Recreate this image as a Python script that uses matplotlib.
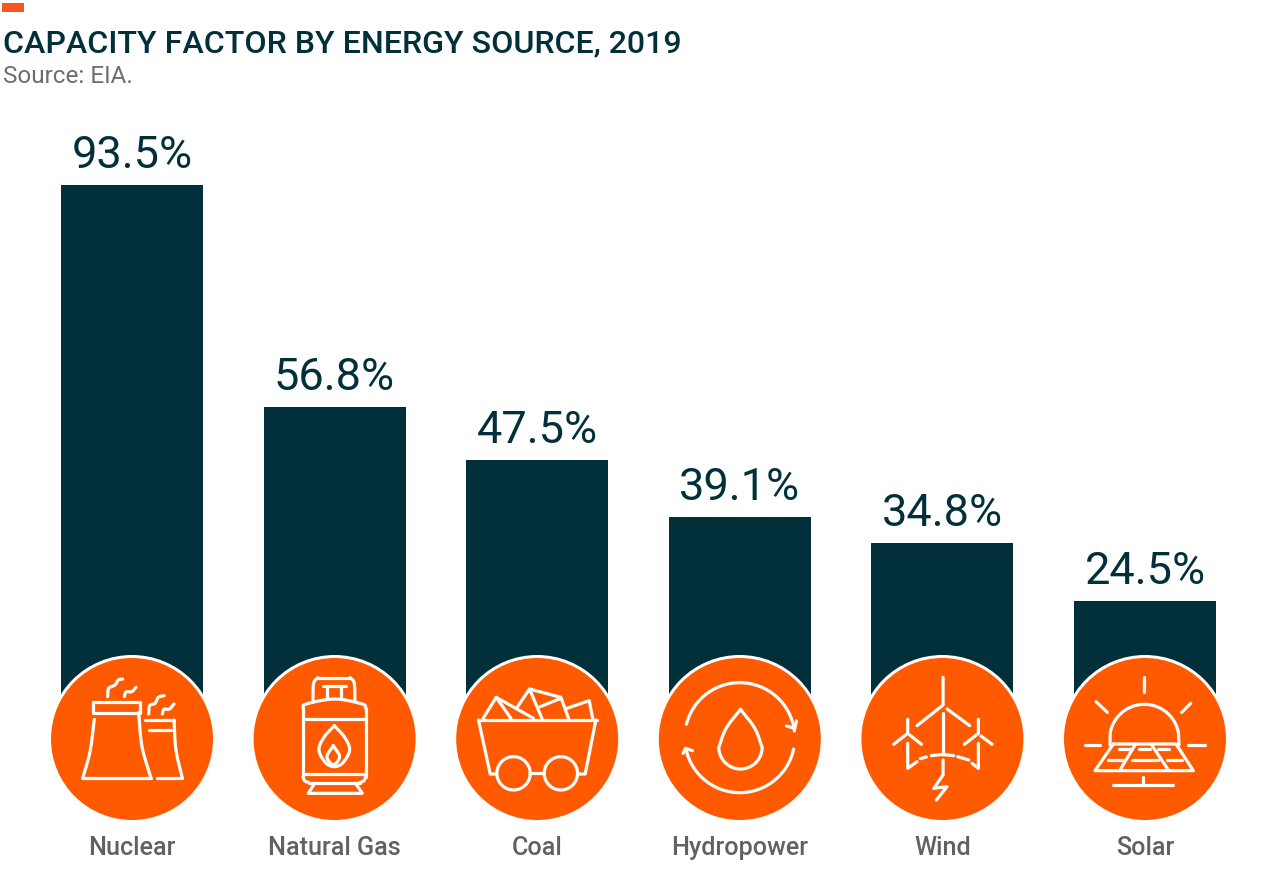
import numpy as np
import matplotlib
matplotlib.use("Agg")
import matplotlib.pyplot as plt
from matplotlib.patches import Circle, Rectangle

categories = ["Nuclear", "Natural Gas", "Coal", "Hydropower", "Wind", "Solar"]
value_labels = ["93.5%", "56.8%", "47.5%", "39.1%", "34.8%", "24.5%"]
bar_heights = [93.5, 56.7, 47.9, 38.4, 34.1, 24.5]
title_text = "CAPACITY FACTOR BY ENERGY SOURCE, 2019"
source_text = "Source: EIA."

DARK = "#02303a"
ORANGE = "#ff5a00"
GREY = "#5f6163"
W, H = 1280, 877
X0, DX, BASE, UNIT, AX_BOTTOM = 132.0, 202.6, 748.7, 6.03, 826.0
FONT = "Roboto"

fig = plt.figure(figsize=(W / 100, H / 100), dpi=100, facecolor="white")
ax = fig.add_axes([0, 1 - AX_BOTTOM / H, 1, AX_BOTTOM / H])
ax.set_xlim(-X0 / DX, (W - X0) / DX)
ax.set_ylim(-(AX_BOTTOM - BASE) / UNIT, BASE / UNIT)
x = np.arange(len(categories))
ax.bar(x, bar_heights, width=142 / DX, color=DARK, linewidth=0)
for s in ax.spines.values():
    s.set_visible(False)
ax.set_yticks([])
ax.set_xticks(x, categories, fontsize=18.1, fontweight="medium", family=FONT, color=GREY)
ax.tick_params(axis="x", length=0, pad=7)
for xi, h, lab in zip(x, bar_heights, value_labels):
    ax.annotate(lab, (xi, h), xytext=(0, 12.2), textcoords="offset points", ha="center",
                va="baseline", fontsize=32.5, fontweight="regular", family=FONT, color=DARK)

ov = fig.add_axes([0, 0, 1, 1], facecolor="none")
ov.set_xlim(0, W)
ov.set_ylim(H, 0)
ov.axis("off")
ov.add_patch(Rectangle((2, 3), 22, 9, color="#f4581f", lw=0))
ov.text(3, 52.5, title_text, fontsize=23.1, fontweight="medium", family=FONT, color=DARK, va="baseline")
ov.text(3, 83, source_text, fontsize=17.5, fontweight="regular", family=FONT, color="#6b6e70", va="baseline")


def smooth(pts, n=12):
    p = np.array(pts, float)
    p = np.vstack([2 * p[0] - p[1], p, 2 * p[-1] - p[-2]])
    out = []
    for i in range(1, len(p) - 2):
        for t in np.linspace(0, 1, n, endpoint=False):
            out.append(0.5 * (2 * p[i] + (p[i + 1] - p[i - 1]) * t
                              + (2 * p[i - 1] - 5 * p[i] + 4 * p[i + 1] - p[i + 2]) * t ** 2
                              + (3 * p[i] - p[i - 1] - 3 * p[i + 1] + p[i + 2]) * t ** 3))
    out.append(p[-2])
    return np.array(out)


def arc(cx, cy, r, a0, a1):
    a = np.radians(np.linspace(a0, a1, 60))
    return np.column_stack([cx + r * np.cos(a), cy - r * np.sin(a)])


S = lambda *p: smooth(p)
L = lambda *p: np.array(p, float)

# Icon outlines, in units of a 3x crop, relative to the crop position of each circle centre
icons = [
    ((276, 237), [
        L((160, 127), (300, 127), (300, 158), (160, 158), (160, 127)),
        S((163, 178), (150, 275), (128, 355)), L((128, 355), (333, 355)),
        S((296, 158), (306, 260), (333, 355)),
        L((315, 180), (402, 180)), L((328, 211), (392, 211)),
        S((402, 180), (408, 270), (427, 355)), L((350, 355), (427, 355)),
        S((203, 110), (206, 85), (225, 75), (235, 60), (248, 57)),
        S((253, 110), (258, 96), (275, 95), (288, 82)),
        S((326, 162), (329, 137), (345, 130), (355, 112), (372, 107)),
        S((367, 162), (372, 148), (388, 147), (402, 132)),
    ]),
    ((885, 237), [
        S((820, 125), (822, 70), (835, 53)), L((835, 53), (932, 53)), S((932, 53), (944, 70), (946, 125)),
        L((850, 78), (920, 78)), L((862, 78), (862, 113)), L((905, 78), (905, 113)),
        S((790, 145), (800, 132), (885, 117), (968, 132), (978, 145)),
        L((790, 145), (790, 350)), L((978, 145), (978, 350)),
        S((790, 350), (795, 362), (808, 368)), L((808, 368), (960, 368)), S((960, 368), (973, 362), (978, 350)),
        L((790, 178), (978, 178)), L((790, 342), (978, 342)),
        L((825, 370), (806, 400), (968, 400), (948, 370)),
        S((884, 197), (915, 232), (930, 270), (910, 308), (884, 320), (858, 308), (838, 270), (853, 232), (884, 197)),
        S((881, 257), (900, 290), (881, 314), (862, 290), (881, 257)),
    ]),
    ((291, 237), [
        L((112, 180), (470, 180)), L((115, 180), (150, 342), (168, 342)), L((467, 180), (435, 342), (415, 342)),
        L((275, 338), (310, 338)), arc(220, 340, 50, 0, 360), arc(362, 340, 50, 0, 360),
        L((127, 178), (168, 112), (212, 175)), L((168, 112), (280, 175)),
        L((232, 140), (268, 87), (305, 175)), L((268, 87), (362, 112), (385, 175)),
        L((300, 140), (362, 115)), L((380, 145), (447, 122), (458, 178)),
    ]),
    ((900, 237), [
        arc(900, 233, 165, 166, 7), arc(900, 233, 165, -12, -166),
        L((1040, 198), (1065, 205), (1070, 183)), L((730, 280), (737, 265), (758, 272)),
        np.vstack([S((902, 148), (945, 205), (967, 262)), arc(902, 262, 65, 0, -180),
                   S((837, 262), (859, 205), (902, 148))]),
    ]),
    ((276, 237), [
        L((278, 52), (278, 135), (200, 197)), L((290, 147), (358, 197)),
        L((278, 160), (278, 275)), L((278, 300), (278, 345), (250, 385), (290, 380), (258, 420)),
        L((172, 178), (172, 220), (130, 253)), L((178, 225), (213, 253)), L((172, 250), (172, 325), (200, 305)),
        L((384, 178), (384, 220), (342, 253)), L((392, 228), (425, 253)), L((384, 250), (384, 325), (365, 310)),
        L((210, 296), (228, 291)), S((243, 287), (275, 284), (310, 287)), L((322, 290), (355, 300)),
    ]),
    ((885, 237), [
        L((883, 50), (883, 95)), L((738, 125), (772, 157)), L((1022, 130), (995, 157)),
        L((705, 255), (750, 255)), L((1015, 255), (1065, 255)),
        np.vstack([L((780, 255)), arc(883, 237, 104, 170, 10), L((987, 255))]),
        L((790, 252), (978, 252), (1030, 332), (735, 332), (790, 252)),
        L((855, 255), (810, 330)), L((905, 255), (955, 330)),
        L((808, 268), (845, 268)), L((868, 268), (900, 268)), L((925, 268), (958, 268)),
        L((775, 300), (825, 300)), L((845, 300), (925, 300)), L((950, 300), (995, 300)),
        L((880, 350), (880, 375)), L((790, 375), (970, 375)),
    ]),
]

for xi, (c0, shapes) in zip(x, icons):
    cx, cy = X0 + DX * xi, 739.0
    ov.add_patch(Circle((cx, cy), 84, color="white", lw=0))
    ov.add_patch(Circle((cx, cy), 81, color=ORANGE, lw=0))
    for s in shapes:
        s = np.asarray(s)
        ov.plot(cx + (s[:, 0] - c0[0]) / 3, cy + (s[:, 1] - c0[1]) / 3, color="white", lw=2.3,
                solid_capstyle="round", solid_joinstyle="round")

fig.savefig("out.png", dpi=100)
